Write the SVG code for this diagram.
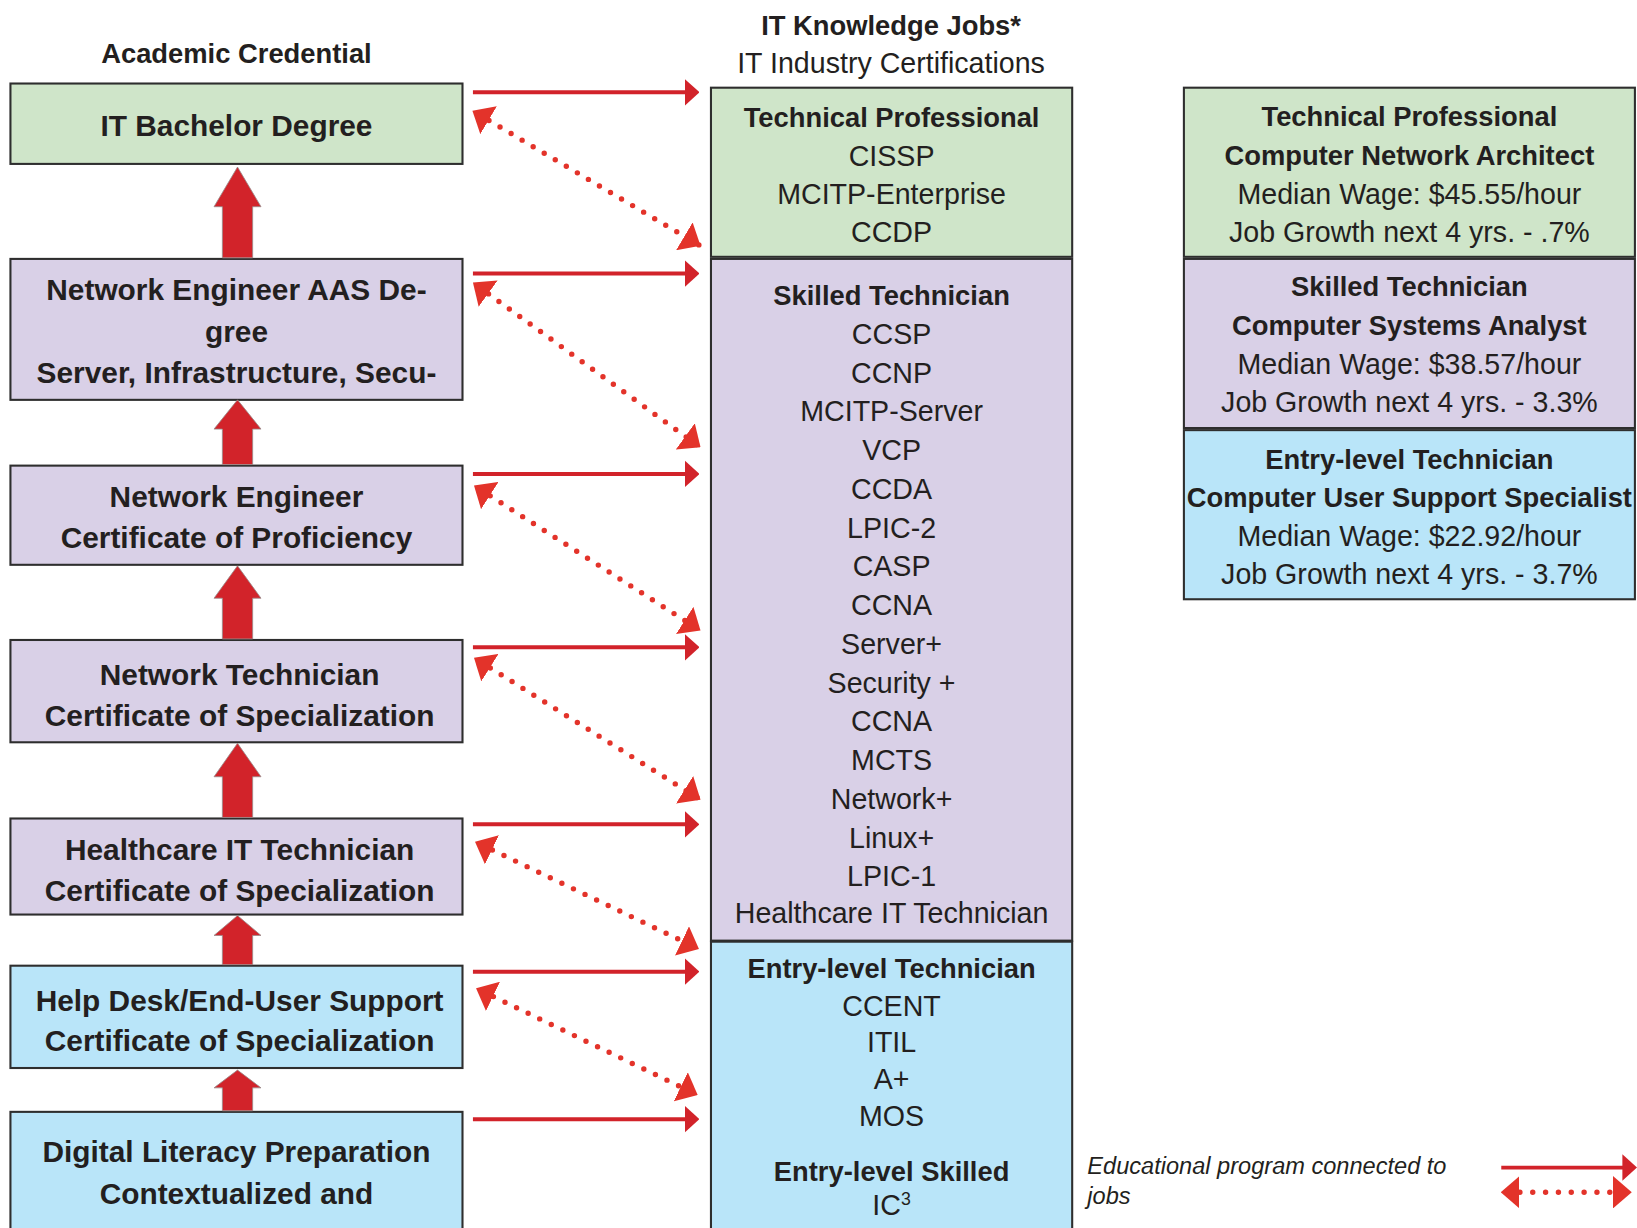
<svg xmlns="http://www.w3.org/2000/svg" width="1637" height="1228" viewBox="0 0 1637 1228">
<defs>
<style>
.bx{stroke:#2e2e2e;stroke-width:2}
.g{fill:#cfe5c9}.p{fill:#d9d0e7}.b{fill:#b9e5f9}
text{font-family:"Liberation Sans",Arial,sans-serif;fill:#231f20;text-anchor:middle}
.lb{font-size:28.6px;font-weight:bold}
.hb{font-size:26.2px;font-weight:bold}
.rg{font-size:27.4px}
.it{font-size:22.6px;font-style:italic;text-anchor:start}
.up{fill:#d2232a;stroke:#9a8a8a;stroke-width:0.8}
.sl{stroke:#d2232a;stroke-width:3.8;fill:none;marker-end:url(#sh)}
.dl{stroke:#e3332a;stroke-width:5.2;stroke-linecap:round;stroke-dasharray:0 12.3;stroke-dashoffset:-6.15;fill:none;marker-start:url(#dh);marker-end:url(#dh)}
</style>
<marker id="sh" markerUnits="userSpaceOnUse" markerWidth="14" markerHeight="26" viewBox="0 -13 14 26" refX="4" refY="0" orient="auto"><path d="M0,-12.7 L14,0 L0,12.7z" fill="#d2232a"/></marker>
<marker id="dh" markerUnits="userSpaceOnUse" markerWidth="18" markerHeight="31" viewBox="0 -15.5 18 31" refX="18" refY="0" orient="auto-start-reverse"><path d="M0,-15.5 L18,0 L0,15.5z" fill="#e3332a"/></marker>
</defs>
<rect width="1637" height="1228" fill="#fff"/>
<g transform="scale(1.044)">
<g id="headers">
<text class="hb" x="226.5" y="60">Academic Credential</text>
<text class="hb" x="853.5" y="33.5">IT Knowledge Jobs*</text>
<text class="rg" x="853.5" y="69.6">IT Industry Certifications</text>
</g>
<g id="edu-bachelor"><rect class="bx g" x="10" y="80" width="433" height="77"/><text class="lb" x="226.5" y="130.3">IT Bachelor Degree</text></g>
<g id="edu-aas"><rect class="bx p" x="10" y="248" width="433" height="135"/><text class="lb" x="226.5" y="287">Network Engineer AAS De-</text><text class="lb" x="226.5" y="327.3">gree</text><text class="lb" x="226.5" y="367.2">Server, Infrastructure, Secu-</text></g>
<g id="edu-proficiency"><rect class="bx p" x="10" y="446" width="433" height="95"/><text class="lb" x="226.5" y="485.3">Network Engineer</text><text class="lb" x="226.5" y="524.5">Certificate of Proficiency</text></g>
<g id="edu-nettech"><rect class="bx p" x="10" y="613" width="433" height="98"/><text class="lb" x="229.5" y="656">Network Technician</text><text class="lb" x="229.5" y="695.5">Certificate of Specialization</text></g>
<g id="edu-healthcare"><rect class="bx p" x="10" y="784" width="433" height="92"/><text class="lb" x="229.5" y="824">Healthcare IT Technician</text><text class="lb" x="229.5" y="863">Certificate of Specialization</text></g>
<g id="edu-helpdesk"><rect class="bx b" x="10" y="925" width="433" height="98"/><text class="lb" x="229.5" y="968.5">Help Desk/End-User Support</text><text class="lb" x="229.5" y="1007">Certificate of Specialization</text></g>
<g id="edu-digital"><rect class="bx b" x="10" y="1065" width="433" height="130"/><text class="lb" x="226.5" y="1113">Digital Literacy Preparation</text><text class="lb" x="226.5" y="1153">Contextualized and</text></g>
<g id="cert-professional"><rect class="bx g" x="681" y="84" width="346" height="162"/>
<text class="hb" x="854" y="121.3">Technical Professional</text>
<text class="rg" x="854" y="158.7">CISSP</text><text class="rg" x="854" y="195.4">MCITP-Enterprise</text><text class="rg" x="854" y="232">CCDP</text></g>
<g id="cert-skilled"><rect class="bx p" x="681" y="248" width="346" height="653"/>
<text class="hb" x="854" y="292">Skilled Technician</text>
<text class="rg" x="854" y="329.5">CCSP</text>
<text class="rg" x="854" y="366.6">CCNP</text>
<text class="rg" x="854" y="403.7">MCITP-Server</text>
<text class="rg" x="854" y="440.8">VCP</text>
<text class="rg" x="854" y="477.9">CCDA</text>
<text class="rg" x="854" y="515">LPIC-2</text>
<text class="rg" x="854" y="552.1">CASP</text>
<text class="rg" x="854" y="589.2">CCNA</text>
<text class="rg" x="854" y="626.3">Server+</text>
<text class="rg" x="854" y="663.4">Security +</text>
<text class="rg" x="854" y="700.5">CCNA</text>
<text class="rg" x="854" y="737.6">MCTS</text>
<text class="rg" x="854" y="774.7">Network+</text>
<text class="rg" x="854" y="811.8">Linux+</text>
<text class="rg" x="854" y="848.9">LPIC-1</text>
<text class="rg" x="854" y="884">Healthcare IT Technician</text></g>
<g id="cert-entry"><rect class="bx b" x="681" y="902" width="346" height="300"/>
<text class="hb" x="854" y="937">Entry-level Technician</text>
<text class="rg" x="854" y="973">CCENT</text>
<text class="rg" x="854" y="1008">ITIL</text>
<text class="rg" x="854" y="1043">A+</text>
<text class="rg" x="854" y="1078.3">MOS</text>
<text class="hb" x="854" y="1131.2">Entry-level Skilled</text>
<text class="rg" x="854" y="1164">IC<tspan font-size="17" dy="-10">3</tspan></text></g>
<g id="job-architect"><rect class="bx g" x="1134" y="84" width="432" height="162"/>
<text class="hb" x="1350" y="121">Technical Professional</text>
<text class="hb" x="1350" y="158">Computer Network Architect</text>
<text class="rg" x="1350" y="195">Median Wage: $45.55/hour</text>
<text class="rg" x="1350" y="231.5">Job Growth next 4 yrs. - .7%</text></g>
<g id="job-analyst"><rect class="bx p" x="1134" y="248" width="432" height="162"/>
<text class="hb" x="1350" y="284">Skilled Technician</text>
<text class="hb" x="1350" y="321">Computer Systems Analyst</text>
<text class="rg" x="1350" y="358">Median Wage: $38.57/hour</text>
<text class="rg" x="1350" y="394.5">Job Growth next 4 yrs. - 3.3%</text></g>
<g id="job-support"><rect class="bx b" x="1134" y="412" width="432" height="162"/>
<text class="hb" x="1350" y="449">Entry-level Technician</text>
<text class="hb" x="1350" y="486">Computer User Support Specialist</text>
<text class="rg" x="1350" y="523">Median Wage: $22.92/hour</text>
<text class="rg" x="1350" y="559.5">Job Growth next 4 yrs. - 3.7%</text></g>
<g id="connectors">
<polygon class="up" points="227.5,160 250,198 242,198 242,247 213,247 213,198 205,198"/>
<polygon class="up" points="227.5,383 250,411 242,411 242,445 213,445 213,411 205,411"/>
<polygon class="up" points="227.5,542 250,573 242,573 242,612 213,612 213,573 205,573"/>
<polygon class="up" points="227.5,712 250,744 242,744 242,783 213,783 213,744 205,744"/>
<polygon class="up" points="227.5,877 250,896 242,896 242,924 213,924 213,896 205,896"/>
<polygon class="up" points="227.5,1025 250,1042 242,1042 242,1064 213,1064 213,1042 205,1042"/>
<line class="sl" x1="453" y1="88.4" x2="660" y2="88.4"/>
<line class="sl" x1="453" y1="262" x2="660" y2="262"/>
<line class="sl" x1="453" y1="454" x2="660" y2="454"/>
<line class="sl" x1="453" y1="620" x2="660" y2="620"/>
<line class="sl" x1="453" y1="789.6" x2="660" y2="789.6"/>
<line class="sl" x1="453" y1="930.7" x2="660" y2="930.7"/>
<line class="sl" x1="453" y1="1072" x2="660" y2="1072"/>
<line class="dl" x1="452.5" y1="106" x2="671" y2="235.5"/>
<line class="dl" x1="453" y1="270.7" x2="671" y2="428.5"/>
<line class="dl" x1="454" y1="465" x2="671" y2="604"/>
<line class="dl" x1="454" y1="630" x2="671" y2="766"/>
<line class="dl" x1="455" y1="806.2" x2="669.5" y2="909"/>
<line class="dl" x1="456" y1="946.6" x2="668.3" y2="1048.8"/>
</g>
<g id="legend">
<text class="it" x="1041.5" y="1124.5">Educational program connected to</text>
<text class="it" x="1041.5" y="1153.5">jobs</text>
<line class="sl" x1="1438" y1="1118.4" x2="1558" y2="1118.4"/>
<line class="dl" x1="1437.4" y1="1142" x2="1563" y2="1142"/>
</g>
</g>
</svg>
